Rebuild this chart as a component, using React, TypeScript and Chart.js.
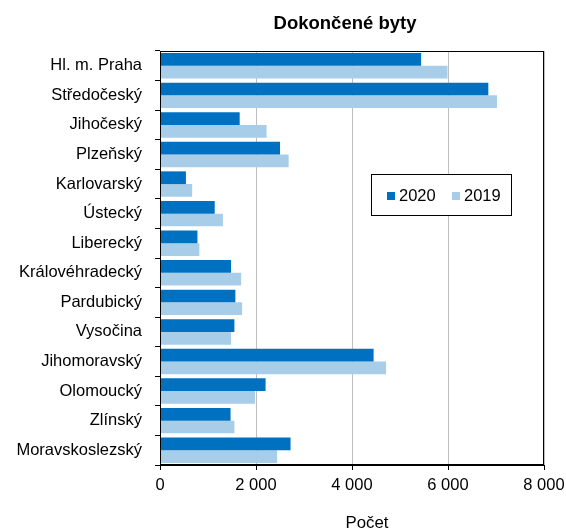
import React, { useEffect, useRef } from "react";
import { Chart, registerables } from "chart.js";

Chart.register(...registerables);

const chartTitle = "Dokončené byty";
const axisTitle = "Počet";
const categories = [
  "Hl. m. Praha",
  "Středočeský",
  "Jihočeský",
  "Plzeňský",
  "Karlovarský",
  "Ústecký",
  "Liberecký",
  "Královéhradecký",
  "Pardubický",
  "Vysočina",
  "Jihomoravský",
  "Olomoucký",
  "Zlínský",
  "Moravskoslezský",
];
const seriesLabels = ["2020", "2019"];
const values2020 = [5440, 6840, 1660, 2500, 540, 1140, 780, 1480, 1570, 1550, 4450, 2200, 1470, 2720];
const values2019 = [5990, 7020, 2220, 2680, 670, 1310, 820, 1690, 1710, 1480, 4710, 1980, 1550, 2440];
const xMin = 0;
const xMax = 8000;
const xStep = 2000;

const COLOR_2020 = "#0070C0";
const COLOR_2019 = "#A7CDE8";
const FONT = "'Liberation Sans', Arial, Helvetica, sans-serif";

function fmt(v: number): string {
  if (v >= 1000) {
    const th = Math.floor(v / 1000);
    const rest = String(v % 1000).padStart(3, "0");
    return th + "\u00a0" + rest;
  }
  return String(v);
}

const framePlugin = {
  id: "frameAndExtras",
  afterDraw(chart: any) {
    const { ctx, chartArea } = chart;
    ctx.save();
    ctx.strokeStyle = "#000";
    ctx.lineWidth = 1;
    const l = Math.round(chartArea.left) + 0.5;
    const t = Math.round(chartArea.top) + 0.5;
    const r = Math.round(chartArea.right) - 0.5;
    const b = Math.round(chartArea.bottom) - 0.5;
    ctx.strokeRect(l, t, r - l, b - t);

    // title
    ctx.fillStyle = "#000";
    ctx.font = `bold 18.5px ${FONT}`;
    ctx.textAlign = "center";
    ctx.textBaseline = "alphabetic";
    ctx.fillText(chartTitle, 345, 29);

    // x axis title
    ctx.font = `16.8px ${FONT}`;
    ctx.fillText(axisTitle, 367, 528);

    // legend box
    const bx = 371.5, by = 174.5, bw = 140, bh = 41;
    ctx.fillStyle = "#fff";
    ctx.fillRect(bx, by, bw, bh);
    ctx.strokeStyle = "#000";
    ctx.strokeRect(bx, by, bw, bh);
    ctx.font = `16.5px ${FONT}`;
    ctx.textAlign = "left";
    const items = [
      { label: seriesLabels[0], color: COLOR_2020, sx: 387, tx: 399 },
      { label: seriesLabels[1], color: COLOR_2019, sx: 452, tx: 464 },
    ];
    for (const it of items) {
      ctx.fillStyle = it.color;
      ctx.fillRect(it.sx, 192, 8, 8);
      ctx.fillStyle = "#000";
      ctx.fillText(it.label, it.tx, 201);
    }
    ctx.restore();
  },
};

export default function App() {
  const ref = useRef<HTMLCanvasElement | null>(null);

  useEffect(() => {
    document.body.style.margin = "0";
    const canvas = ref.current;
    if (!canvas) return;
    Chart.defaults.font.family = FONT;
    Chart.defaults.color = "#000";
    const chart = new Chart(canvas, {
      type: "bar",
      data: {
        labels: categories,
        datasets: [
          {
            label: seriesLabels[0],
            data: values2020,
            backgroundColor: COLOR_2020,
            borderWidth: 0,
            categoryPercentage: 0.86,
            barPercentage: 1,
          },
          {
            label: seriesLabels[1],
            data: values2019,
            backgroundColor: COLOR_2019,
            borderWidth: 0,
            categoryPercentage: 0.86,
            barPercentage: 1,
          },
        ],
      },
      options: {
        indexAxis: "y",
        animation: false,
        responsive: false,
        devicePixelRatio: 1,
        layout: { padding: { top: 51, right: 22, bottom: 0, left: 0 } },
        plugins: {
          legend: { display: false },
          title: { display: false },
          tooltip: { enabled: false },
        },
        scales: {
          x: {
            type: "linear",
            min: xMin,
            max: xMax,
            ticks: {
              stepSize: xStep,
              callback: (v: any) => fmt(Number(v)),
              font: { size: 16.5, family: FONT },
              color: "#000",
              padding: 6,
              maxRotation: 0,
            },
            grid: {
              color: "#BFBFBF",
              tickColor: "#000",
              tickLength: 5,
              lineWidth: 1,
            },
            border: { color: "#000", width: 1 },
            title: { display: false },
            afterFit: (scale: any) => {
              scale.height = 64;
              scale.paddingLeft = 0;
              scale.paddingRight = 0;
            },
          },
          y: {
            type: "category",
            ticks: {
              font: { size: 16.5, family: FONT },
              color: "#000",
              padding: 13,
              autoSkip: false,
            },
            grid: {
              offset: true,
              drawOnChartArea: false,
              tickColor: "#000",
              tickLength: 5,
              color: "#000",
            },
            border: { color: "#000", width: 1 },
            afterFit: (scale: any) => {
              scale.width = 160;
              scale.paddingTop = 0;
              scale.paddingBottom = 0;
            },
          },
        },
      },
      plugins: [framePlugin],
    } as any);
    return () => chart.destroy();
  }, []);

  return (
    <div style={{ width: 566, height: 529, position: "relative" }}>
      <canvas ref={ref} width={566} height={529} style={{ display: "block" }} />
    </div>
  );
}
